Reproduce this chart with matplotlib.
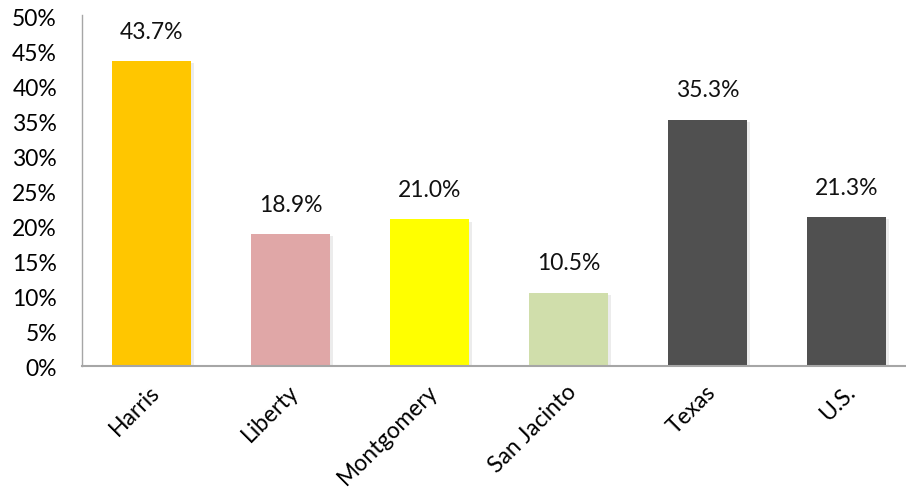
import matplotlib
matplotlib.use("Agg")
import matplotlib.pyplot as plt
import matplotlib.patheffects as pe
from matplotlib.transforms import ScaledTranslation

counties = ["Harris", "Liberty", "Montgomery", "San Jacinto", "Texas", "U.S."]
values = [43.7, 18.9, 21.0, 10.5, 35.3, 21.3]
colors = ["#FFC600", "#E0A7A7", "#FFFF00", "#D0DEAB", "#505050", "#505050"]

plt.rcParams["font.family"] = ["Lato", "DejaVu Sans"]
fs = 16.5

fig = plt.figure(figsize=(9.06, 5.02), dpi=100)
ax = fig.add_axes([82/906, 1 - 367/502, 1 - 82/906, 349/502])

x = range(len(counties))
bars = ax.bar(x, values, width=0.575, color=colors, zorder=2)
for b in bars:
    b.set_path_effects([pe.SimplePatchShadow(offset=(1.5, -1.5), shadow_rgbFace="#999999", alpha=0.18),
                        pe.Normal()])

for i, v in enumerate(values):
    ax.annotate("{:.1f}%".format(v), (i, v), xytext=(0, 14), textcoords="offset points",
                ha="center", va="bottom", fontsize=fs, color="#111111")

ax.set_ylim(0, 50)
ax.set_xlim(-0.5, 5.5 - 10/139)
ax.set_yticks(range(0, 51, 5))
ax.set_yticklabels(["{}%".format(t) for t in range(0, 51, 5)], fontsize=fs)
ax.set_xticks(list(x))
ax.set_xticklabels(counties, fontsize=fs, rotation=45, ha="right", va="center",
                   rotation_mode="anchor")

ax.tick_params(axis="both", length=0)
ax.tick_params(axis="y", pad=18)
ax.spines["top"].set_visible(False)
ax.spines["right"].set_visible(False)
ax.spines["left"].set_color("#A6A6A6")
ax.spines["left"].set_linewidth(1.0)
ax.spines["bottom"].set_color("#A6A6A6")
ax.spines["bottom"].set_linewidth(1.5)
ax.spines["left"].set_bounds(0, 50.3)

# shift rotated labels so their ends sit below-right of the bar centres
offset = ScaledTranslation(5/100, -17/100, fig.dpi_scale_trans)
for lab in ax.get_xticklabels():
    lab.set_transform(lab.get_transform() + offset)

fig.savefig("out.png", dpi=100)
